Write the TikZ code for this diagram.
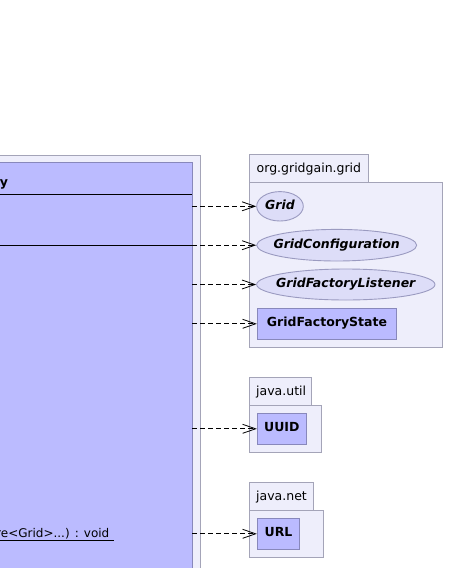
\documentclass[tikz,border=0pt]{standalone}
\usepackage{fontspec}
\setmainfont{DejaVu Sans}
\usetikzlibrary{arrows.meta,shapes.geometric}
\definecolor{pkgfill}{HTML}{EEEEFB}
\definecolor{pkgline}{HTML}{A4A4B8}
\definecolor{clsfill}{HTML}{BBBBFF}
\definecolor{clsline}{HTML}{8888BB}
\definecolor{ifcfill}{HTML}{DDDDF8}
\definecolor{ifcline}{HTML}{9A9AC0}
\tikzset{
  pkgbox/.style={draw=pkgline, fill=pkgfill, line width=0.9pt, rectangle, inner sep=0pt, anchor=north west},
  clsbox/.style={draw=clsline, fill=clsfill, line width=0.9pt, rectangle, inner sep=0pt,
    text height=8pt, text depth=2pt, font=\fontsize{12.5}{15}\selectfont\bfseries},
  ifcbox/.style={draw=ifcline, fill=ifcfill, line width=0.9pt, ellipse, inner sep=0pt,
    text height=8pt, text depth=2pt, font=\fontsize{12.5}{15}\selectfont\bfseries\itshape},
  pkglabel/.style={anchor=base west, inner sep=0pt, font=\fontsize{12.5}{15}\selectfont},
  dep/.style={draw=black, line width=0.8pt, dash pattern=on 5pt off 3pt,
    -{Straight Barb[length=13pt,width=9pt,line width=0.8pt]}},
  sep/.style={draw=black, line width=0.9pt},
}
\begin{document}
\begin{tikzpicture}[x=1pt,y=-1pt]
\useasboundingbox (0,0) rectangle (454,568);
% class (cut off at the left and bottom)
\node[pkgbox, minimum width=219.5pt, minimum height=440pt] (outer) at (-20,154.5) {};
\node[clsbox, anchor=north west, minimum width=211.5pt, minimum height=430pt] (cls) at (-20,161.7) {};
\node[anchor=base west, inner sep=0pt, font=\fontsize{12.5}{15}\selectfont\bfseries] (clsname) at (-0.3,186) {y};
\coordinate (s1) at (0,194);
\coordinate (s2) at (0,245);
\draw[sep] (s1) -- (cls.east |- s1);
\draw[sep] (s2) -- (cls.east |- s2);
\node[anchor=base east, inner sep=0pt, font=\fontsize{12}{14}\selectfont] (meth) at (109.5,537) {re<Grid>...) : void};
\coordinate (u1) at (0,540);
\coordinate (u2) at (114,540);
\draw[line width=0.8pt] (u1) -- (u2);

% package org.gridgain.grid
\node[pkgbox, minimum width=118.4pt, minimum height=28.3pt] (tab1) at (249.3,154) {};
\node[pkglabel] (tab1t) at (256.5,172.7) {org.gridgain.grid};
\node[pkgbox, minimum width=193pt, minimum height=165pt] (pkg1) at (249.3,182.3) {};
\node[ifcbox, minimum width=46.6pt, minimum height=29.4pt] (grid) at (280,206.3) {\makebox[0pt]{Grid}};
\node[ifcbox, minimum width=160pt, minimum height=31.6pt] (gconf) at (336.7,245.2) {\makebox[0pt]{GridConfiguration}};
\node[ifcbox, minimum width=178.3pt, minimum height=31pt] (glis) at (345.8,284.5) {\makebox[0pt]{GridFactoryListener}};
\node[clsbox, minimum width=139.4pt, minimum height=31pt] (gstate) at (327,323.8) {GridFactoryState};

% package java.util
\node[pkgbox, minimum width=62pt, minimum height=27.7pt] (tab2) at (249.3,377.3) {};
\node[pkglabel] (tab2t) at (256,395.7) {java.util};
\node[pkgbox, minimum width=72pt, minimum height=47.3pt] (pkg2) at (249.3,405) {};
\node[clsbox, minimum width=49pt, minimum height=31pt] (uuid) at (281.8,428.8) {UUID};

% package java.net
\node[pkgbox, minimum width=64pt, minimum height=28pt] (tab3) at (249.3,482.3) {};
\node[pkglabel] (tab3t) at (256,500.7) {java.net};
\node[pkgbox, minimum width=74pt, minimum height=47pt] (pkg3) at (249.3,510.3) {};
\node[clsbox, minimum width=42.4pt, minimum height=31pt] (url) at (278.5,533.8) {URL};

% dependencies
\draw[dep] (cls.east |- grid.west) -- (grid.west);
\draw[dep] (cls.east |- gconf.west) -- (gconf.west);
\draw[dep] (cls.east |- glis.west) -- (glis.west);
\draw[dep] (cls.east |- gstate.west) -- (gstate.west);
\draw[dep] (cls.east |- uuid.west) -- (uuid.west);
\draw[dep] (cls.east |- url.west) -- (url.west);
\end{tikzpicture}
\end{document}
